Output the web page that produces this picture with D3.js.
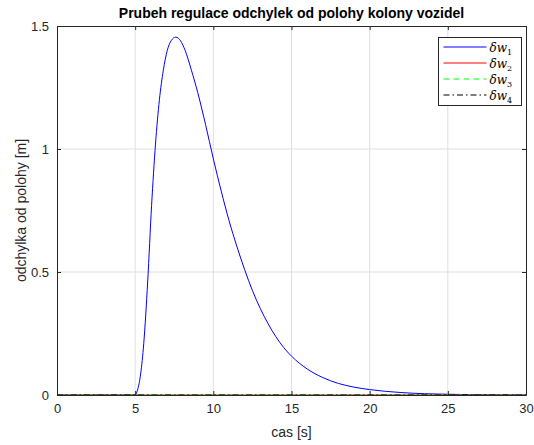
<!DOCTYPE html>
<html>
<head>
<meta charset="utf-8">
<script src="https://cdn.jsdelivr.net/npm/d3@7"></script>
<style>
  body { margin: 0; background: #fff; }
  svg { display: block; font-family: "Liberation Sans", Arial, sans-serif; }
</style>
</head>
<body>
<div id="chart"></div>
<script>
var width = 534, height = 445;
var margin = ({top: 26, right: 8, bottom: 50, left: 57});

// cas [s] a odchylka dw1 [m]
var t1 = [0, 5.0, 5.15, 5.35, 5.55, 5.8, 6.05, 6.3, 6.55, 6.8, 7.05, 7.3, 7.6, 7.9, 8.2, 8.6, 9.0, 9.5, 10, 10.5, 11, 11.5, 12, 12.5, 13, 13.5, 14, 14.5, 15, 16, 17, 18, 19, 20, 22, 25, 27, 30];
var w1 = [0, 0, 0.02, 0.085, 0.21, 0.46, 0.77, 1.02, 1.2, 1.32, 1.40, 1.44, 1.455, 1.44, 1.40, 1.32, 1.23, 1.10, 0.96, 0.83, 0.71, 0.605, 0.51, 0.425, 0.352, 0.29, 0.237, 0.193, 0.158, 0.106, 0.071, 0.047, 0.032, 0.022, 0.010, 0.003, 0.001, 0];
var tz = [0, 30];
var w2 = [0, 0];
var w3 = [0, 0];
var w4 = [0, 0];

var xTicks = [0, 5, 10, 15, 20, 25, 30];
var yTicks = [0, 0.5, 1, 1.5];
var yTickLabels = ["0", "0.5", "1", "1.5"];
var names = ["1", "2", "3", "4"];
var colors = ["#0000ff", "#ff0000", "#00ff00", "#000000"];
var dashes = [null, null, "6,4", "6,3,1.5,3"];

var x = d3.scaleLinear().domain([0, 30]).range([margin.left, width - margin.right]);
var y = d3.scaleLinear().domain([0, 1.5]).range([height - margin.bottom, margin.top]);

var svg = d3.select("#chart").append("svg")
  .attr("width", width)
  .attr("height", height);

// mrizka
svg.append("g").selectAll("line").data(xTicks.slice(1, -1)).join("line")
  .attr("x1", d => x(d)).attr("x2", d => x(d))
  .attr("y1", y(0)).attr("y2", y(1.5))
  .attr("stroke", "#dfdfdf").attr("stroke-width", 1);
svg.append("g").selectAll("line").data(yTicks.slice(1, -1)).join("line")
  .attr("y1", d => y(d)).attr("y2", d => y(d))
  .attr("x1", x(0)).attr("x2", x(30))
  .attr("stroke", "#dfdfdf").attr("stroke-width", 1);

var line = d3.line()
  .x(d => x(d[0]))
  .y(d => y(d[1]))
  .curve(d3.curveMonotoneX);

var series = [[t1, w1], [tz, w2], [tz, w3], [tz, w4]];
series.forEach(function(s, i){
  svg.append("path")
    .datum(d3.zip(s[0], s[1]))
    .attr("fill", "none")
    .attr("stroke", colors[i])
    .attr("stroke-width", 1)
    .attr("stroke-dasharray", dashes[i])
    .attr("d", line);
});

// osy
svg.append("g")
  .attr("transform", `translate(0,${y(0)})`)
  .call(d3.axisBottom(x).tickValues(xTicks).tickSizeInner(-4).tickSizeOuter(0).tickPadding(9));
svg.append("g")
  .attr("transform", `translate(${x(0)},0)`)
  .call(d3.axisLeft(y).tickValues(yTicks).tickFormat((d, i) => yTickLabels[i]).tickSizeInner(-4).tickSizeOuter(0).tickPadding(8));
svg.append("g")
  .attr("transform", `translate(0,${y(1.5)})`)
  .call(d3.axisTop(x).tickValues(xTicks).tickSizeInner(-4).tickSizeOuter(0).tickFormat(""));
svg.append("g")
  .attr("transform", `translate(${x(30)},0)`)
  .call(d3.axisRight(y).tickValues(yTicks).tickSizeInner(-4).tickSizeOuter(0).tickFormat(""));

svg.selectAll(".domain").attr("stroke", "#262626");
svg.selectAll(".tick line").attr("stroke", "#262626");
svg.selectAll(".tick text")
  .attr("fill", "#262626")
  .style("font-size", "13px")
  .style("font-family", "Liberation Sans, Arial, sans-serif");

svg.append("text")
  .attr("x", (x(0) + x(30)) / 2)
  .attr("y", 437)
  .attr("text-anchor", "middle")
  .attr("fill", "#262626")
  .style("font-size", "14px")
  .text("cas [s]");

svg.append("text")
  .attr("transform", `translate(26,${(y(0) + y(1.5)) / 2}) rotate(-90)`)
  .attr("text-anchor", "middle")
  .attr("fill", "#262626")
  .style("font-size", "14px")
  .text("odchylka od polohy [m]");

svg.append("text")
  .attr("x", (x(0) + x(30)) / 2)
  .attr("y", 18)
  .attr("text-anchor", "middle")
  .attr("fill", "#000")
  .style("font-size", "14px")
  .style("font-weight", "bold")
  .text("Prubeh regulace odchylek od polohy kolony vozidel");

// legenda
var lg = svg.append("g").attr("transform", "translate(438.5,37.5)");
lg.append("rect")
  .attr("width", 83).attr("height", 68)
  .attr("fill", "#fff").attr("stroke", "#262626").attr("stroke-width", 1);
names.forEach(function(n, i){
  var yy = 9.5 + i * 16;
  lg.append("line")
    .attr("x1", 5).attr("x2", 48)
    .attr("y1", yy).attr("y2", yy)
    .attr("stroke", colors[i])
    .attr("stroke-dasharray", dashes[i])
    .attr("stroke-width", 1);
  var tx = lg.append("text")
    .attr("x", 51).attr("y", yy + 4.5)
    .attr("fill", "#000")
    .style("font-family", "DejaVu Serif, Liberation Serif, serif")
    .style("font-style", "italic")
    .style("font-size", "12px");
  tx.append("tspan").text("δw");
  tx.append("tspan").attr("dy", 3).style("font-size", "8px").style("font-style", "normal").text(n);
});
</script>
</body>
</html>
